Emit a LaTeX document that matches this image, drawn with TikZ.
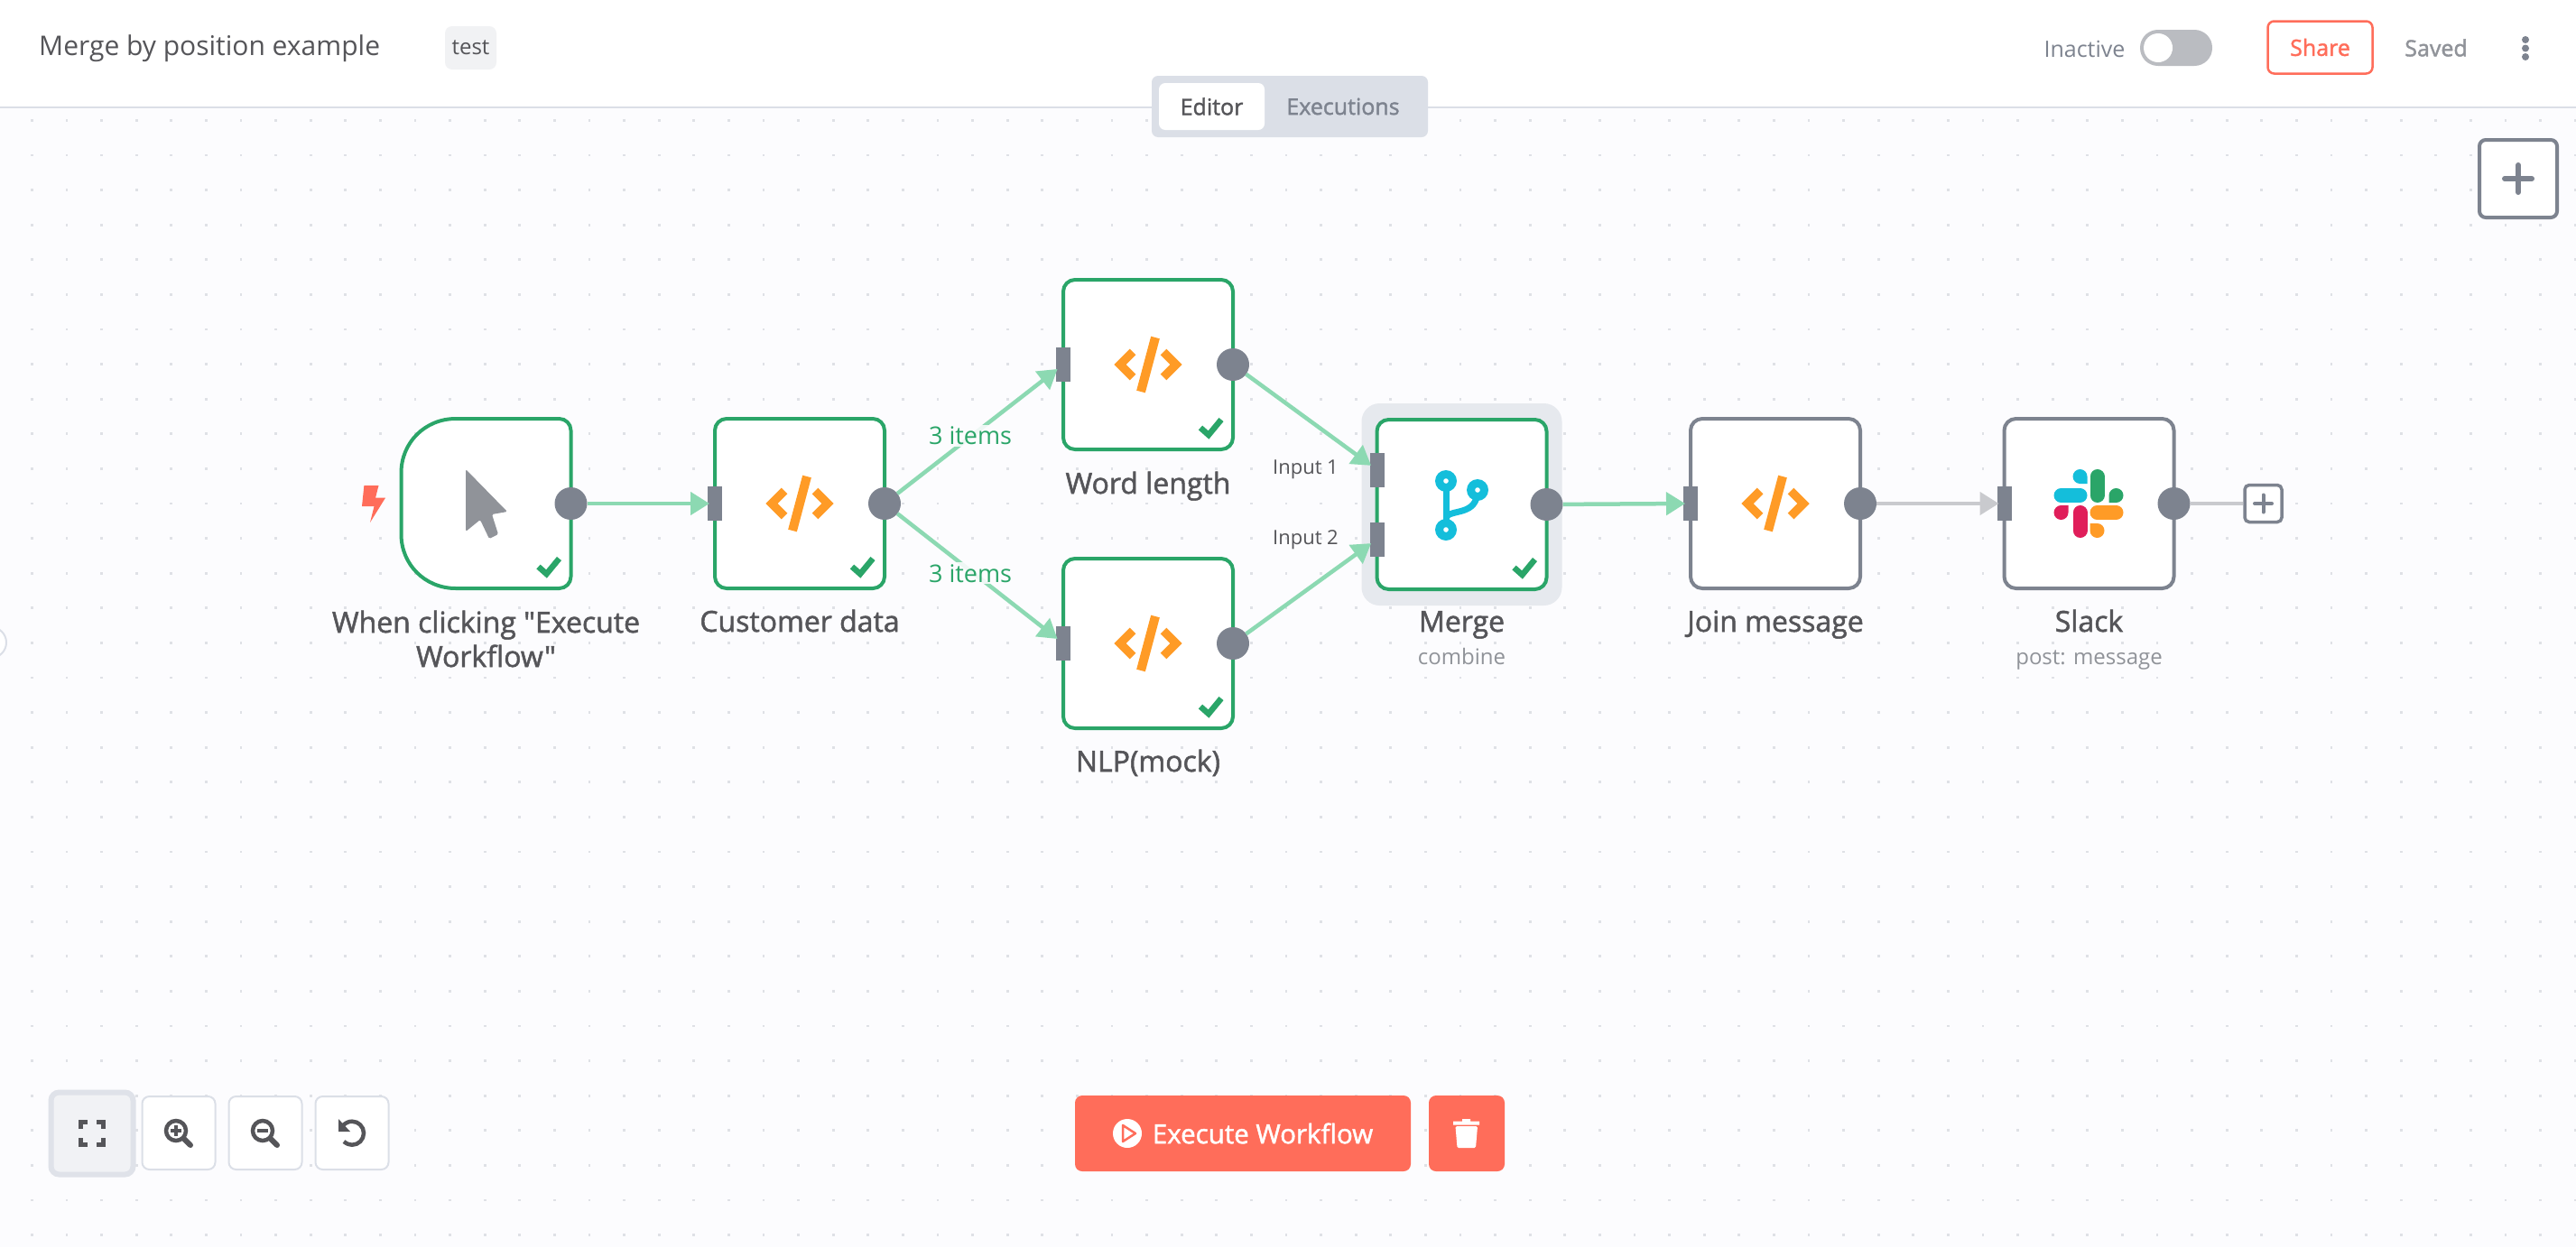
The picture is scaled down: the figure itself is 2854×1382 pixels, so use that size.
\documentclass[tikz,border=0pt]{standalone}
\usepackage{fontspec}
\setmainfont{Open Sans}
\newfontfamily\semifont[FakeBold=1.6]{Open Sans}
\usetikzlibrary{arrows.meta,positioning}

\definecolor{canvasbg}{HTML}{FCFCFE}
\definecolor{griddot}{HTML}{DFE1E6}
\definecolor{rule}{HTML}{DBDFE7}
\definecolor{okgreen}{HTML}{2AA568}
\definecolor{edgegreen}{HTML}{8CD9B2}
\definecolor{edgegray}{HTML}{C9CACE}
\definecolor{slate}{HTML}{7D838F}
\definecolor{ink}{HTML}{555559}
\definecolor{mute}{HTML}{909399}
\definecolor{coral}{HTML}{FF6D5A}
\definecolor{amber}{HTML}{FF9B26}
\definecolor{teal}{HTML}{14BEDB}
\definecolor{berry}{HTML}{E01E5A}

\tikzset{
    nodebox/.style={rectangle, draw=okgreen, line width=4pt, fill=white, rounded corners=13pt,
        minimum width=188pt, minimum height=188pt, inner sep=0pt, outer sep=0pt},
    idlebox/.style={nodebox, draw=slate},
    outport/.style={circle, fill=slate, minimum size=36pt, inner sep=0pt, outer sep=0pt},
    inport/.style={rectangle, fill=slate, minimum width=16pt, minimum height=38pt, inner sep=0pt, outer sep=0pt},
    edge/.style={draw=edgegreen, line width=4.5pt, -{Triangle[length=21pt,width=25pt]}, shorten >=-2pt},
    idleedge/.style={edge, draw=edgegray},
    edgelabel/.style={fill=canvasbg, fill opacity=0.88, text opacity=1, text=okgreen, font=\fontsize{27}{32}\selectfont, inner sep=2pt, pos=0.46},
    caption/.style={text=ink, font=\fontsize{32}{38}\semifont, align=center, inner sep=0pt, text height=23pt, text depth=7pt},
    subcaption/.style={text=mute, font=\fontsize{24}{30}\selectfont, inner sep=0pt, text height=18pt, text depth=6pt},
    portlabel/.style={text=ink, font=\fontsize{22}{26}\selectfont, inner sep=0pt},
    toolbtn/.style={rectangle, draw=rule, line width=2pt, fill=white, rounded corners=8pt, minimum width=81pt, minimum height=81pt, inner sep=0pt},
    headtext/.style={font=\fontsize{26}{30}\selectfont, inner sep=0pt},
    codeicon/.pic={
        \draw[amber, line width=9.5pt, miter limit=4] (-17,-14) -- (-31,0) -- (-17,14);
        \draw[amber, line width=9.5pt, miter limit=4] (17,-14) -- (31,0) -- (17,14);
        \draw[amber, line width=10pt] (8,-30) -- (-8,30);
    },
    okmark/.pic={
        \draw[okgreen, line width=6.5pt] (58,70) -- (67,78) -- (81,61);
    },
    lensicon/.pic={
        \draw[ink, line width=4.5pt] (0,0) circle (11pt);
        \draw[ink, line width=6pt, line cap=round] (9,9) -- (16,16);
    }
}

\begin{document}
\begin{tikzpicture}[x=1pt, y=-1pt, node distance=347.5pt]
    \useasboundingbox (0,0) rectangle (2854,1382);
    \fill[canvasbg] (0,0) rectangle (2854,1382);
    \foreach \i in {0,...,73}
        \foreach \j in {0,...,32}
            \fill[griddot] ({35.4+\i*38.6-1.4},{133.3+\j*38.6-1.4}) rectangle +(2.8,2.8);

    % top bar
    \fill[white] (0,0) rectangle (2854,118);
    \draw[rule, line width=2pt] (0,118.5) -- (2854,118.5);
    \node[headtext, text=ink, font=\fontsize{30}{34}\selectfont, anchor=west] (title) at (43,54) {Merge by position example};
    \node[rectangle, fill=black!5!rule!30!white, rounded corners=8pt, minimum width=57pt, minimum height=48pt, inner sep=0pt] (tag) at (521.5,53) {};
    \node[headtext, text=ink, font=\fontsize{24}{28}\selectfont] (tagtext) at (tag) {test};
    \node[rectangle, fill=rule, rounded corners=7pt, minimum width=306pt, minimum height=68pt] (tabs) at (1429,118) {};
    \node[rectangle, fill=white, rounded corners=7pt, minimum width=117pt, minimum height=52pt] (editor) at (1342.5,118) {};
    \node[headtext, text=ink, font=\fontsize{25}{30}\semifont] (editortext) at (editor) {Editor};
    \node[headtext, text=slate, font=\fontsize{25}{30}\semifont] (execs) at (1488,118) {Executions};
    \node[headtext, text=slate, font=\fontsize{25}{30}\selectfont] (inactive) at (2309.5,54) {Inactive};
    \node[rectangle, fill=edgegray!80!slate, rounded corners=19.8pt, minimum width=80pt, minimum height=40pt, inner sep=0pt] (toggle) at (2411,53) {};
    \node[circle, fill=white, minimum size=32pt, inner sep=0pt] (knob) at (2391,53) {};
    \node[rectangle, draw=coral, line width=2.5pt, fill=white, rounded corners=7pt, minimum width=116pt, minimum height=58pt] (share) at (2570.5,52.5) {};
    \node[headtext, text=coral, font=\fontsize{25}{30}\semifont] (sharetext) at (share) {Share};
    \node[headtext, text=mute, font=\fontsize{25}{30}\semifont] (saved) at (2699,53) {Saved};
    \foreach \y in {44,53.5,63}
        \fill[slate] (2798,\y) circle (4pt);

    % side handle and add button
    \draw[rule, line width=2pt, fill=white] (-10,712) circle (17pt);
    \node[rectangle, draw=slate, line width=4pt, fill=white, rounded corners=7pt, minimum width=86pt, minimum height=86pt] (addnew) at (2790,198) {};
    \draw[slate, line width=6pt, line cap=round] (2775,198) -- (2805,198) (2790,183) -- (2790,213);

    % workflow nodes
    \node[rectangle, fill=rule!70!white, rounded corners=20pt, minimum width=222pt, minimum height=224pt] (halo) at (1619.5,559) {};
    \node[minimum width=188pt, minimum height=188pt, inner sep=0pt, outer sep=0pt] (trigger) at (538.5,558) {};
    \draw[okgreen, line width=4pt, fill=white] (505,464) -- (619.5,464)
        .. controls (626.7,464) and (632.5,469.8) .. (632.5,477) -- (632.5,639)
        .. controls (632.5,646.2) and (626.7,652) .. (619.5,652) -- (505,652)
        .. controls (471,652) and (444.5,625.6) .. (444.5,592) -- (444.5,524)
        .. controls (444.5,490.4) and (471,464) .. (505,464) -- cycle;
    \node[nodebox] (customer) [right of=trigger] {};
    \node[nodebox] (word) at (1272,404) {};
    \node[nodebox] (nlp) at (1272,713) {};
    \node[nodebox] (merge) at (1619.5,559) {};
    \node[idlebox] (join) [right of=merge, yshift=1pt] {};
    \node[idlebox] (slack) [right of=join] {};

    \foreach \nd in {trigger,customer,word,nlp,merge,join,slack}
        \node[outport] (\nd out) at (\nd.east) {};
    \foreach \nd in {customer,word,nlp,join,slack}
        \node[inport] (\nd in) at (\nd.west) {};
    \node[inport] (mergein1) at ([yshift=38.5pt]merge.west) {};
    \node[inport] (mergein2) at ([yshift=-38.5pt]merge.west) {};
    \node[rectangle, draw=slate, line width=3.5pt, fill=white, rounded corners=5pt, minimum size=41pt, inner sep=0pt] (more) at (2507.5,558) {};
    \draw[slate, line width=4pt, line cap=round] (2498,558) -- (2517,558) (2507.5,548.5) -- (2507.5,567.5);

    % connectors
    \draw[edge] (triggerout) -- (customerin);
    \draw[edge] (customerout) -- node[edgelabel, yshift=1.5pt] (items1) {3 items} (wordin);
    \draw[edge] (customerout) -- node[edgelabel, yshift=-3pt] (items2) {3 items} (nlpin);
    \draw[edge] (wordout) -- (mergein1);
    \draw[edge] (nlpout) -- (mergein2);
    \draw[edge] (mergeout) -- (joinin);
    \draw[idleedge] (joinout) -- (slackin);
    \draw[edgegray, line width=4.5pt] (slackout) -- (more);

    \node[portlabel, anchor=east] (input1) at (1483,520) {Input 1};
    \node[portlabel, anchor=east] (input2) at (1483,598) {Input 2};

    % captions
    \node[caption] (triggercap) [below of=trigger, node distance=173pt] {When clicking "Execute\\Workflow"};
    \node[caption] (customercap) [below of=customer, node distance=134pt] {Customer data};
    \node[caption] (wordcap) [below of=word, node distance=135pt] {Word length};
    \node[caption] (nlpcap) [below of=nlp, node distance=134pt] {NLP(mock)};
    \node[caption] (mergecap) [below of=merge, node distance=133pt] {Merge};
    \node[subcaption] (mergesub) [below of=merge, node distance=171pt] {combine};
    \node[caption] (joincap) [below of=join, node distance=134pt] {Join message};
    \node[caption] (slackcap) [below of=slack, node distance=134pt] {Slack};
    \node[subcaption] (slacksub) [below of=slack, node distance=172pt] {post: message};

    % icons
    \pic at (customer) {codeicon};
    \pic at (word) {codeicon};
    \pic at (nlp) {codeicon};
    \pic at (join) {codeicon};
    \pic at (trigger) {okmark};
    \pic at (customer) {okmark};
    \pic at (word) {okmark};
    \pic at (nlp) {okmark};
    \pic at (merge) {okmark};
    \fill[mute, rounded corners=1.5pt] (516,520) -- (562,567) -- (545,570) -- (552,592) -- (542,597) -- (532,576) -- (516,589) -- cycle;
    \fill[coral] (403.4,538) -- (419.5,538) -- (416,551.7) -- (427,551.7) -- (410,579) -- (414.5,561) -- (401,561) -- cycle;

    % merge glyph
    \draw[teal, line width=7pt] (1602,533) -- (1602,587);
    \draw[teal, line width=7pt] (1602,573) .. controls (1608,564) and (1637,572) .. (1637,543);
    \fill[teal] (1602,533) circle (12pt) (1637,543) circle (12pt) (1602,587) circle (12pt);
    \fill[white] (1602,533) circle (2.8pt) (1637,543) circle (2.8pt) (1602,587) circle (2.8pt);

    % slack glyph
    \begin{scope}[shift={(slack.center)}]
        \draw[teal, line width=16pt, line cap=round] (-31,-9) -- (-10,-9);
        \fill[teal] (-10,-30) circle (8pt) (-10,-30) rectangle (-2,-22);
        \draw[okgreen, line width=16pt, line cap=round] (9,-30) -- (9,-9);
        \fill[okgreen] (30,-9) circle (8pt) (22,-9) rectangle (30,-1);
        \draw[berry, line width=16pt, line cap=round] (-10,10) -- (-10,30);
        \fill[berry] (-31,10) circle (8pt) (-31,2) rectangle (-23,10);
        \draw[amber, line width=16pt, line cap=round] (9,10) -- (30,10);
        \fill[amber] (9,30) circle (8pt) (1,22) rectangle (9,30);
    \end{scope}

    % bottom left tools
    \node[rectangle, draw=rule!90!white, line width=6pt, fill=rule!40!white, rounded corners=9pt, minimum width=91pt, minimum height=91pt, inner sep=0pt] (fitbtn) at (102,1256) {};
    \node[toolbtn] (zoomin) at (198,1255.5) {};
    \node[toolbtn] (zoomout) at (294,1255.5) {};
    \node[toolbtn] (resetbtn) at (390,1255.5) {};
    \draw[ink, line width=5pt] (89.5,1251) -- (89.5,1243.5) -- (97,1243.5) (107,1243.5) -- (114.5,1243.5) -- (114.5,1251)
        (114.5,1261) -- (114.5,1268.5) -- (107,1268.5) (97,1268.5) -- (89.5,1268.5) -- (89.5,1261);
    \pic at (195,1253) {lensicon};
    \draw[ink, line width=3.5pt] (189,1253) -- (201,1253) (195,1247) -- (195,1259);
    \pic at (291,1253) {lensicon};
    \draw[ink, line width=3.5pt] (285,1253) -- (297,1253);
    \draw[ink, line width=4.5pt] (381,1265) .. controls (384,1267.5) and (387,1268.7) .. (390,1268.7)
        .. controls (397.2,1268.7) and (403,1262.9) .. (403,1255.7)
        .. controls (403,1248.5) and (397.2,1242.7) .. (390,1242.7)
        .. controls (386,1242.7) and (383,1244.5) .. (380,1247);
    \fill[ink] (375,1240) -- (375,1254) -- (388,1254) -- cycle;

    % execute and delete
    \node[rectangle, fill=coral, rounded corners=8pt, minimum width=372pt, minimum height=84pt, inner sep=0pt] (execbtn) at (1377,1256) {};
    \node[rectangle, fill=coral, rounded corners=8pt, minimum width=84pt, minimum height=84pt, inner sep=0pt] (trashbtn) at (1625,1256) {};
    \fill[white] (1249,1256) circle (16pt);
    \draw[coral, line width=2.5pt, fill=white, line join=round] (1244,1247) -- (1258,1256) -- (1244,1265) -- cycle;
    \node[text=white, font=\fontsize{29.5}{34}\semifont, inner sep=0pt] (exectext) at (1399,1256) {Execute Workflow};
    \fill[white] (1610,1242.5) rectangle (1639,1246.5) (1620,1240) rectangle (1629,1243);
    \fill[white, rounded corners=1.5pt] (1612.5,1248) -- (1637,1248) -- (1635,1272) -- (1614.5,1272) -- cycle;
\end{tikzpicture}
\end{document}
